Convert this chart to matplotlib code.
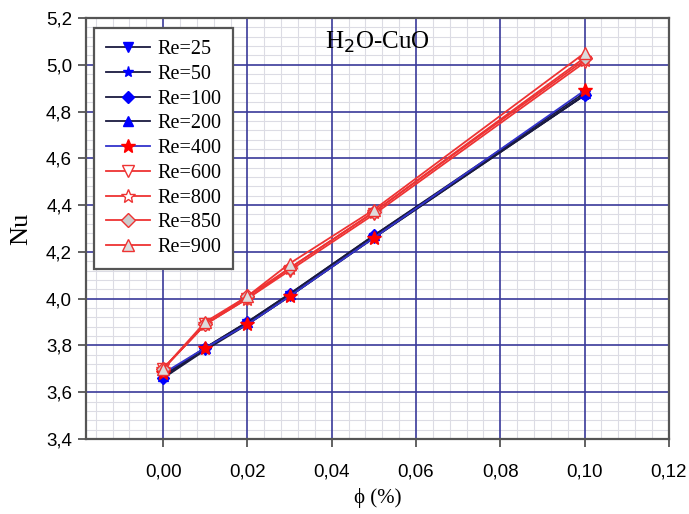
import numpy as np
import matplotlib
matplotlib.use("Agg")
import matplotlib.pyplot as plt
from matplotlib.ticker import MultipleLocator, FuncFormatter

phi = [0.0, 0.01, 0.02, 0.03, 0.05, 0.10]

re25 = [3.66, 3.78, 3.89, 4.01, 4.26, 4.87]
re50 = [3.67, 3.79, 3.89, 4.01, 4.26, 4.87]
re100 = [3.66, 3.79, 3.90, 4.02, 4.27, 4.87]
re200 = [3.67, 3.79, 3.90, 4.02, 4.27, 4.88]
re400 = [3.68, 3.79, 3.89, 4.01, 4.26, 4.89]
re600 = [3.70, 3.89, 4.00, 4.12, 4.36, 5.01]
re800 = [3.70, 3.89, 4.00, 4.13, 4.37, 5.02]
re850 = [3.70, 3.89, 4.01, 4.13, 4.37, 5.03]
re900 = [3.70, 3.90, 4.01, 4.15, 4.38, 5.05]

serie = [
    ("Re=25", re25, "#1a1a40", "v", "#0000ff", "#0000ff", 7),
    ("Re=50", re50, "#1a1a40", "*", "#0000ff", "#0000ff", 8),
    ("Re=100", re100, "#1a1a40", "D", "#0000ff", "#0000ff", 6),
    ("Re=200", re200, "#1a1a40", "^", "#0000ff", "#0000ff", 7),
    ("Re=400", re400, "#3333cc", "*", "#ff0000", "#ff0000", 10),
    ("Re=600", re600, "#ee3333", "v", "white", "#ee3333", 8),
    ("Re=800", re800, "#ee3333", "*", "white", "#ee3333", 10),
    ("Re=850", re850, "#ee3333", "D", "#cccccc", "#ee3333", 7),
    ("Re=900", re900, "#ee3333", "^", "#dddddd", "#ee3333", 8),
]

fig = plt.figure(figsize=(6.89, 5.14), dpi=100)
ax = fig.add_axes([0.1248, 0.146, 0.846, 0.819])

for nazev, y, barva, mark, vypln, okraj, vel in serie:
    ax.plot(phi, y, "-", color=barva, lw=1.3, marker=mark, ms=vel,
            markerfacecolor=vypln, markeredgecolor=okraj, markeredgewidth=1.0,
            label=nazev, zorder=3)

ax.set_xlim(-0.0183, 0.12)
ax.set_ylim(3.4, 5.2)
ax.xaxis.set_major_locator(MultipleLocator(0.02))
ax.xaxis.set_minor_locator(MultipleLocator(0.004))
ax.yaxis.set_major_locator(MultipleLocator(0.2))
ax.yaxis.set_minor_locator(MultipleLocator(0.04))
ax.xaxis.set_major_formatter(FuncFormatter(lambda v, p: "{:.2f}".format(v).replace(".", ",")))
ax.yaxis.set_major_formatter(FuncFormatter(lambda v, p: "{:.1f}".format(v).replace(".", ",")))

# jemna mrizka, hlavni mrizka az nad ni
ax.grid(which="minor", color="#dcdce4", lw=0.8)
ax.set_axisbelow(True)
for xv in ax.get_xticks():
    if -0.0183 < xv < 0.1199:
        ax.axvline(xv, color="#3a3a9a", lw=1.2, zorder=1)
for yv in ax.get_yticks():
    if 3.401 < yv < 5.199:
        ax.axhline(yv, color="#3a3a9a", lw=1.2, zorder=1)

ax.tick_params(which="minor", length=0)
ax.tick_params(which="major", length=6, width=1.3, color="#555555", labelsize=13.5)
ax.tick_params(axis="x", pad=12)
ax.tick_params(axis="y", pad=4)
for lab in ax.get_xticklabels() + ax.get_yticklabels():
    lab.set_family("Liberation Sans")
for s in ax.spines.values():
    s.set_color("#555555")
    s.set_linewidth(1.6)

ax.set_xlabel("ϕ (%)", family="Liberation Serif", fontsize=15, labelpad=5)
ax.set_ylabel("Nu", family="Liberation Serif", fontsize=19, labelpad=10)
ax.text(0.5, 0.943, "H$_2$O-CuO", transform=ax.transAxes, ha="center", va="center",
        fontsize=18, family="Liberation Serif")

leg = ax.legend(loc="upper left", bbox_to_anchor=(0.0137, 0.976), borderaxespad=0,
                fancybox=False, framealpha=1, edgecolor="#555555",
                prop={"family": "Liberation Serif", "size": 14.5},
                handlelength=2.2, handletextpad=0.35, labelspacing=0.28, borderpad=0.6)
leg.get_frame().set_linewidth(1.6)

plt.savefig("out.png", dpi=100)
plt.close()
